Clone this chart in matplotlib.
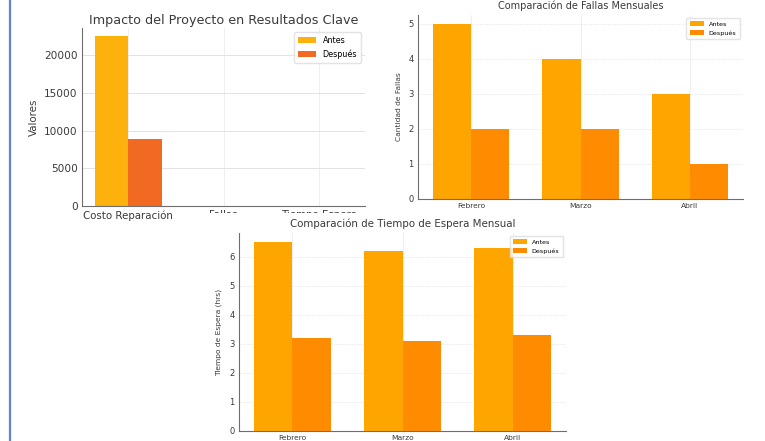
import matplotlib
matplotlib.use("Agg")
import matplotlib.pyplot as plt
import numpy as np
from matplotlib.patches import Rectangle
from matplotlib.lines import Line2D

# Chart 1 data
cat1 = ["Costo Reparación", "Fallas", "Tiempo Espera"]
antes1 = [22500, 12, 6.3]
despues1 = [8850, 5, 3.2]

# Chart 2 data
months = ["Febrero", "Marzo", "Abril"]
fallas_antes = [5, 4, 3]
fallas_despues = [2, 2, 1]

# Chart 3 data
espera_antes = [6.5, 6.2, 6.3]
espera_despues = [3.2, 3.1, 3.3]

W, H = 765, 441
fig = plt.figure(figsize=(W / 100, H / 100), dpi=100)
fig.patch.set_facecolor("white")

txt = "#3a3a3a"
spine_c = "#6e6e6e"


def frac(l, t, r, b):
    return [l / W, (H - b) / H, (r - l) / W, (b - t) / H]


def style(ax, xfs, yfs, grid_ls):
    for s in ["top", "right"]:
        ax.spines[s].set_visible(False)
    for s in ["left", "bottom"]:
        ax.spines[s].set_color(spine_c)
        ax.spines[s].set_linewidth(0.8)
    ax.tick_params(length=0, colors=txt, pad=3)
    ax.tick_params(axis="x", labelsize=xfs)
    ax.tick_params(axis="y", labelsize=yfs)
    ax.grid(True, axis="y", color="#dedede", linestyle=grid_ls, linewidth=0.6)
    ax.grid(True, axis="x", color="#ececec", linestyle="-", linewidth=0.6)
    ax.set_axisbelow(True)


bw = 0.35

# ---- Chart 1 ----
ax1 = fig.add_axes(frac(82, 28, 365, 206), zorder=0)
x1 = np.arange(len(cat1))
ax1.bar(x1 - bw / 2, antes1, bw, color="#FDB10C", label="Antes")
ax1.bar(x1 + bw / 2, despues1, bw, color="#F26A22", label="Después")
ax1.set_xticks(x1)
ax1.set_xticklabels(cat1)
ax1.set_yticks([0, 5000, 10000, 15000, 20000])
style(ax1, 7.4, 7.6, "-")
ax1.set_ylabel("Valores", fontsize=7.4, color=txt, labelpad=4)
ax1.set_title("Impacto del Proyecto en Resultados Clave", fontsize=9.2, color=txt, pad=3)
ax1.legend(loc="upper right", fontsize=5.8, frameon=True, edgecolor="#dddddd",
           handlelength=2.2, handleheight=0.8, borderpad=0.5, labelspacing=0.5)

# ---- Chart 2 ----
ax2 = fig.add_axes(frac(418, 15, 743, 199), zorder=0)
x2 = np.arange(len(months))
ax2.bar(x2 - bw / 2, fallas_antes, bw, color="#FFA500", label="Antes")
ax2.bar(x2 + bw / 2, fallas_despues, bw, color="#FF8C00", label="Después")
ax2.set_xticks(x2)
ax2.set_xticklabels(months)
style(ax2, 5.4, 6.0, ":")
ax2.set_ylabel("Cantidad de Fallas", fontsize=5.4, color=txt, labelpad=5)
ax2.set_title("Comparación de Fallas Mensuales", fontsize=7.0, color=txt, pad=4)
ax2.legend(loc="upper right", fontsize=4.6, frameon=True, edgecolor="#dddddd",
           handlelength=2.2, handleheight=0.8, borderpad=0.5, labelspacing=0.5)

# cover rectangle (chart 3 image background overlapping chart 1)
cover = Rectangle((190 / W, 0), (612 - 190) / W, (H - 213) / H,
                  transform=fig.transFigure, facecolor="white", edgecolor="none", zorder=1)
fig.patches.append(cover)

# ---- Chart 3 ----
ax3 = fig.add_axes(frac(239, 233, 566, 431), zorder=2)
ax3.patch.set_alpha(0)
ax3.bar(x2 - bw / 2, espera_antes, bw, color="#FFA500", label="Antes")
ax3.bar(x2 + bw / 2, espera_despues, bw, color="#FF8C00", label="Después")
ax3.set_xticks(x2)
ax3.set_xticklabels(months)
style(ax3, 5.4, 6.0, ":")
ax3.set_ylabel("Tiempo de Espera (hrs)", fontsize=5.4, color=txt, labelpad=5)
ax3.set_title("Comparación de Tiempo de Espera Mensual", fontsize=7.4, color=txt, pad=4)
ax3.legend(loc="upper right", fontsize=4.6, frameon=True, edgecolor="#dddddd",
           handlelength=2.2, handleheight=0.8, borderpad=0.5, labelspacing=0.5)

# blue vertical line on left
fig.add_artist(Line2D([9.5 / W, 9.5 / W], [0, 1], transform=fig.transFigure,
                      color="#5b86d0", linewidth=1.6, zorder=3))

fig.savefig("out.png", dpi=100)
